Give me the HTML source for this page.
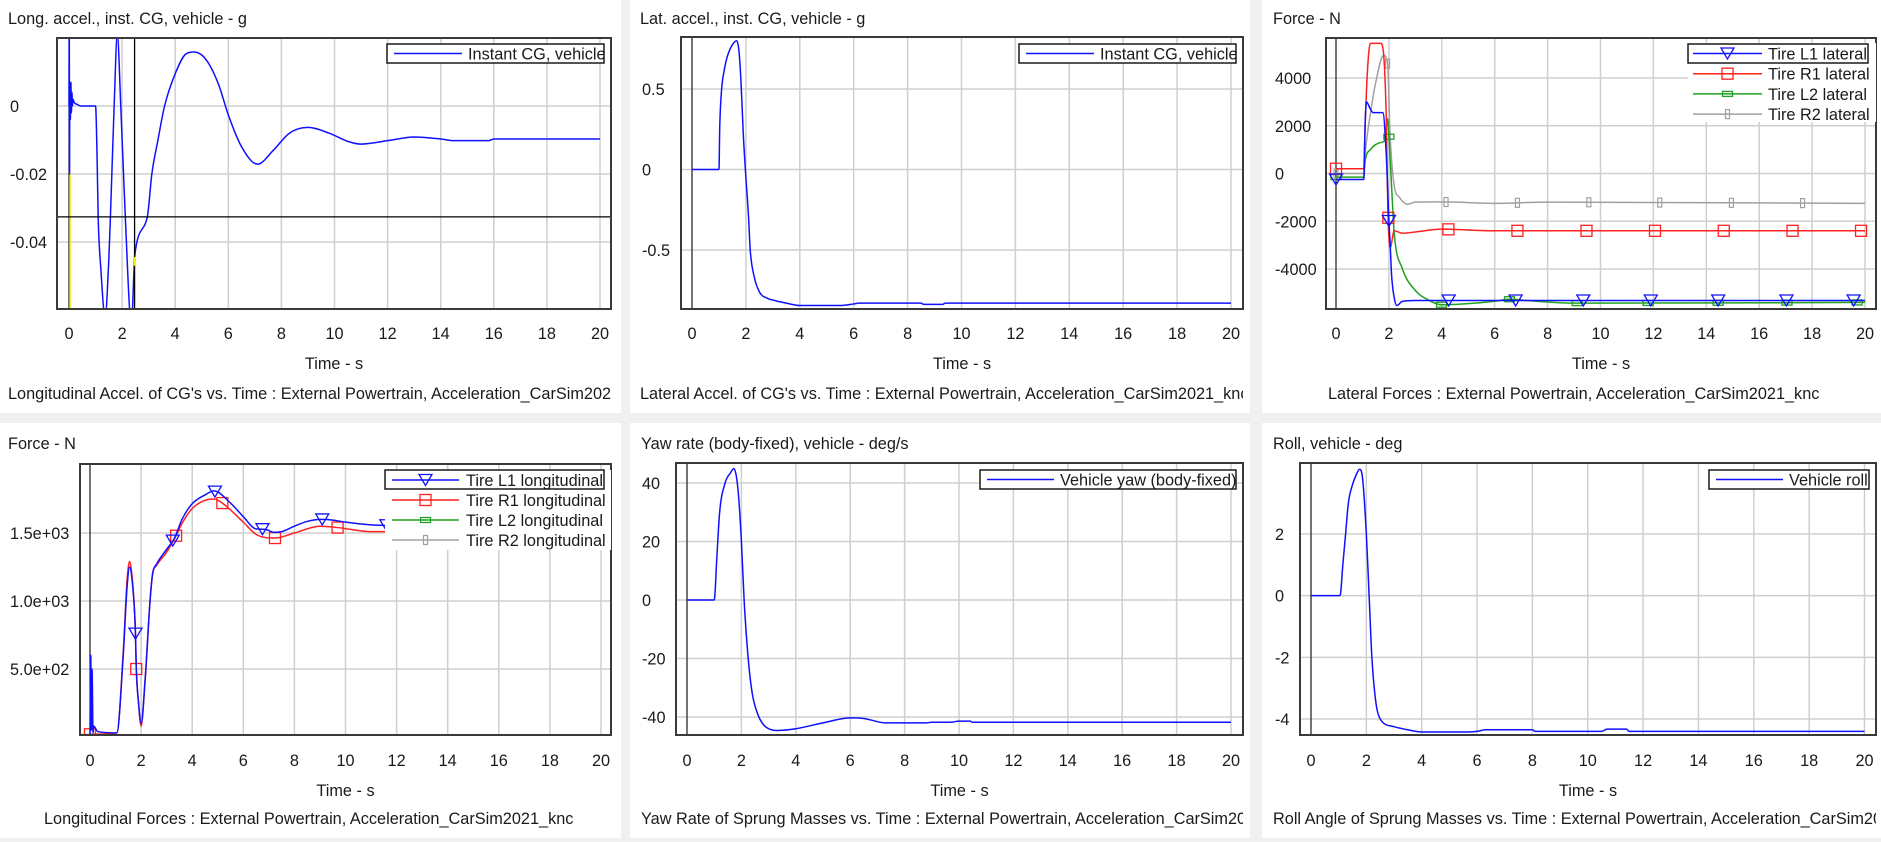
<!DOCTYPE html>
<html><head><meta charset="utf-8"><title>CarSim plots</title>
<style>
html,body{margin:0;padding:0;background:#f0f0f0;}
svg{display:block;font-family:"Liberation Sans",Arial,sans-serif;}
</style></head>
<body>
<svg id="root" width="1881" height="842" viewBox="0 0 1881 842" xmlns="http://www.w3.org/2000/svg">
<rect x="0" y="0" width="1881" height="842" fill="#f0f0f0"/>
</svg>
<script>
// ---------- shared axis data ----------
const xTicks = [0,2,4,6,8,10,12,14,16,18,20];

// ---------- panel 1: longitudinal accel ----------
const p1Time = [0,0.01,0.02,0.03,0.05,0.07,0.09,0.11,0.13,0.15,0.2,0.3,0.45,1.0,1.05,1.1,1.2,1.36,1.5,1.56,1.7,1.82,1.95,2.12,2.35,2.46,2.47,2.95,3.12,3.35,3.6,4.0,4.4,4.7,5.0,5.3,5.65,6.0,6.5,7.1,7.7,8.3,9.0,9.8,10.5,11.0,12.0,13.0,14.0,14.5,15.8,16.0,20];
const p1Accel = [0,0.025,-0.02,0.006,-0.004,0.007,-0.002,0.004,0.0,0.002,0.001,0.0005,0.0,0.0,-0.012,-0.033,-0.048,-0.062,-0.045,-0.0326,0.0,0.021,0.0,-0.0326,-0.064,-0.046,-0.0444,-0.0326,-0.02,-0.01,0.0,0.0095,0.0153,0.0159,0.0150,0.012,0.006,-0.0026,-0.012,-0.0171,-0.013,-0.008,-0.0063,-0.008,-0.0104,-0.0112,-0.0102,-0.0091,-0.0097,-0.0102,-0.0102,-0.0097,-0.0097];
const p1YTicks = [0,-0.02,-0.04];
const p1YLabels = ["0","-0.02","-0.04"];

// ---------- panel 2: lateral accel ----------
const p2Time = [0,1.0,1.03,1.1,1.2,1.29,1.48,1.66,1.74,1.82,1.9,1.98,2.1,2.16,2.3,2.5,2.8,3.1,3.5,4.0,5.5,6.0,6.2,8.5,8.6,9.3,9.4,20];
const p2Accel = [0,0,0.27,0.5,0.62,0.69,0.77,0.8,0.74,0.54,0.23,0,-0.3,-0.5,-0.66,-0.76,-0.8,-0.815,-0.83,-0.845,-0.845,-0.835,-0.83,-0.83,-0.838,-0.838,-0.83,-0.83];
const p2YTicks = [0.5,0,-0.5];
const p2YLabels = ["0.5","0","-0.5"];

// ---------- panel 3: lateral forces ----------
const p3L1Time = [0,1.05,1.1,1.15,1.3,1.4,1.77,1.9,2.0,2.05,2.1,2.2,2.3,2.5,3.0,20];
const p3L1Force = [-250,-250,2000,3000,2700,2550,2550,800,-1990,-3000,-4240,-5200,-5530,-5360,-5320,-5320];
const p3L1Marks = [0,2.0,4.26,6.79,9.35,11.9,14.45,17.03,19.57];
const p3R1Time = [0,1.05,1.1,1.2,1.3,1.69,1.8,1.9,1.96,2.05,2.2,2.5,3.0,4.0,6.0,20];
const p3R1Force = [200,200,2000,4500,5450,5450,5000,2350,-1500,-3100,-2400,-2500,-2450,-2330,-2400,-2400];
const p3R1Marks = [0,1.98,4.25,6.86,9.47,12.06,14.66,17.26,19.85];
const p3L2Time = [0,1.05,1.1,1.3,1.7,1.85,1.95,2.0,2.1,2.2,2.5,3.0,3.5,4.0,5.0,6.0,6.6,7.2,9.0,20];
const p3L2Force = [-150,-150,500,1000,1300,1400,2300,1540,-500,-2500,-3960,-4900,-5300,-5500,-5450,-5350,-5260,-5320,-5430,-5400];
const p3L2Marks = [0,2.0,3.99,6.56,9.12,11.8,14.45,17.05,19.7];
const p3R2Time = [0,1.05,1.1,1.3,1.5,1.8,1.95,2.05,2.2,2.4,2.7,3.0,4.0,6.0,8.0,20];
const p3R2Force = [0,0,800,2500,3800,4950,4600,1500,-500,-1000,-1290,-1200,-1190,-1250,-1200,-1250];
const p3R2Marks = [0,1.95,4.16,6.86,9.56,12.24,14.95,17.64];
const p3YTicks = [4000,2000,0,-2000,-4000];
const p3YLabels = ["4000","2000","0","-2000","-4000"];

// ---------- panel 4: longitudinal forces ----------
const p4L1Time = [0,0.03,0.05,0.08,0.12,0.15,0.3,1.05,1.3,1.45,1.55,1.65,1.75,1.78,1.81,1.9,2.0,2.15,2.35,2.45,2.6,3.0,3.3,3.6,4.0,4.5,4.85,5.5,6.0,6.5,6.85,7.2,7.5,8.0,8.5,9.05,9.5,10,11,12,20];
const p4L1Force = [0,600,50,500,30,80,40,30,600,1100,1250,1150,900,760,520,250,100,400,1000,1200,1270,1380,1460,1600,1715,1780,1810,1720,1620,1530,1527,1505,1510,1550,1585,1600,1595,1580,1560,1555,1550];
const p4L1Marks = [1.78,3.24,4.89,6.75,9.09,11.6];
const p4R1Time = [0,1.05,1.3,1.45,1.55,1.65,1.75,1.78,1.81,1.9,2.0,2.15,2.35,2.45,2.6,3.0,3.37,3.6,4.0,4.5,4.85,5.18,6.0,6.5,7.24,8.0,9.0,9.69,11,20];
const p4R1Force = [20,30,620,1150,1290,1170,900,740,500,250,80,400,1000,1200,1260,1360,1480,1570,1680,1740,1750,1720,1580,1490,1463,1500,1550,1540,1510,1510];
const p4R1Marks = [0,1.81,3.37,5.18,7.24,9.69];
const p4L2Time = [0,20];
const p4L2Force = [0,0];
const p4L2Marks = [-0.1];
const p4R2Time = [0,20];
const p4R2Force = [0,0];
const p4R2Marks = [];
const p4YTicks = [1500,1000,500];
const p4YLabels = ["1.5e+03","1.0e+03","5.0e+02"];

// ---------- panel 5: yaw rate ----------
const p5Time = [0,1.0,1.1,1.2,1.4,1.6,1.72,1.82,1.9,2.0,2.1,2.25,2.4,2.6,2.8,3.0,3.3,4,5,6,6.5,7.3,8,8.8,9,9.7,10,10.4,10.5,20];
const p5Yaw = [0,0,15,30,40,43.5,44.9,42,35,20,0,-20,-32,-39,-42.5,-44,-44.6,-44,-42,-40.3,-40.5,-42,-42,-42,-41.8,-41.8,-41.4,-41.4,-41.8,-41.8];
const p5YTicks = [40,20,0,-20,-40];
const p5YLabels = ["40","20","0","-20","-40"];

// ---------- panel 6: roll ----------
const p6Time = [0,1.05,1.15,1.25,1.35,1.5,1.65,1.75,1.85,2.0,2.1,2.2,2.35,2.5,3.0,3.5,4.0,5.5,6.0,6.3,8.0,8.1,10.5,10.7,11.4,11.5,20];
const p6Roll = [0,0,1.0,2.0,3.0,3.6,3.95,4.1,3.9,2.0,0,-2,-3.5,-4.0,-4.25,-4.35,-4.42,-4.42,-4.4,-4.35,-4.35,-4.4,-4.4,-4.33,-4.33,-4.4,-4.4];
const p6YTicks = [2,0,-2,-4];
const p6YLabels = ["2","0","-2","-4"];

// ---------- rendering ----------
const NS = "http://www.w3.org/2000/svg";
const root = document.getElementById('root');
const FS = 16.3;
function mk(tag, attrs, parent){
  const e = document.createElementNS(NS, tag);
  for (const k in attrs) e.setAttribute(k, attrs[k]);
  (parent||root).appendChild(e);
  return e;
}
function interp(ts, vs, t){
  if (t <= ts[0]) return vs[0];
  for (let i=1;i<ts.length;i++){ if (t <= ts[i]){ const f=(t-ts[i-1])/(ts[i]-ts[i-1]); return vs[i-1]+f*(vs[i]-vs[i-1]); } }
  return vs[vs.length-1];
}
// monotone cubic path (no overshoot)
function monoPath(xs, ys){
  const n = xs.length;
  if (n < 3) return xs.map((x,i)=>(i?'L':'M')+x.toFixed(2)+' '+ys[i].toFixed(2)).join(' ');
  const d = [], m = new Array(n);
  for (let i=0;i<n-1;i++) d.push((ys[i+1]-ys[i])/(xs[i+1]-xs[i]));
  m[0]=d[0]; m[n-1]=d[n-2];
  for (let i=1;i<n-1;i++) m[i] = (d[i-1]*d[i] <= 0) ? 0 : (d[i-1]+d[i])/2;
  for (let i=0;i<n-1;i++){
    if (d[i]===0){ m[i]=0; m[i+1]=0; continue; }
    const a=m[i]/d[i], b=m[i+1]/d[i], s=a*a+b*b;
    if (s>9){ const t=3/Math.sqrt(s); m[i]=t*a*d[i]; m[i+1]=t*b*d[i]; }
  }
  let p = 'M'+xs[0].toFixed(2)+' '+ys[0].toFixed(2);
  for (let i=0;i<n-1;i++){
    const h = xs[i+1]-xs[i];
    p += ' C'+(xs[i]+h/3).toFixed(2)+' '+(ys[i]+m[i]*h/3).toFixed(2)+' '+(xs[i+1]-h/3).toFixed(2)+' '+(ys[i+1]-m[i+1]*h/3).toFixed(2)+' '+xs[i+1].toFixed(2)+' '+ys[i+1].toFixed(2);
  }
  return p;
}
let clipId = 0;
function panel(cfg){
  const g = mk('g', {});
  
  
  const bg = mk('rect', {x:cfg.px, y:cfg.py, width:cfg.pw, height:cfg.ph, fill:'#ffffff'}, g);
  
  
  const p = cfg.plot;
  const X = t => p.x0 + t*(p.x20-p.x0)/20;
  const Y = v => p.ya[1] + (v-p.ya[0])*(p.yb[1]-p.ya[1])/(p.yb[0]-p.ya[0]);
  const cid = 'clip'+(clipId++);
  const cp = mk('clipPath', {id:cid}, g);
  mk('rect', {x:p.l, y:p.t, width:p.r-p.l, height:p.b-p.t}, cp);
  const fid = 'fclip'+(clipId++);
  const fcp = mk('clipPath', {id:fid}, g);
  mk('rect', {x:cfg.px, y:cfg.py, width:p.r-cfg.px, height:cfg.ph}, fcp);
  const title = mk('text', {x:cfg.px+cfg.tx, y:cfg.py+cfg.ty, 'font-size':FS, fill:'#1a1a1a'}, g);
  title.textContent = cfg.title;
  
  
  const grid = mk('g', {stroke:'#cfcfcf', 'stroke-width':1.5, 'clip-path':'url(#'+cid+')'}, g);
  
  
  xTicks.forEach(t => { mk('line', {x1:X(t), x2:X(t), y1:p.t, y2:p.b}, grid); });
  cfg.yTicks.forEach(v => { mk('line', {x1:p.l, x2:p.r, y1:Y(v), y2:Y(v)}, grid); });
  const zl = mk('line', {x1:X(0), x2:X(0), y1:p.t, y2:p.b, stroke:'#000', 'stroke-width':1}, g);
  
  
  xTicks.forEach(t => {
    const tl = mk('text', {x:X(t), y:cfg.py+cfg.xly, 'font-size':FS, 'text-anchor':'middle', fill:'#1a1a1a'}, g);
    tl.textContent = String(t);
    
    
  });
  cfg.yTicks.forEach((v,i) => {
    const tl = mk('text', {x:cfg.px+cfg.ylx, y:Y(v)+6, 'font-size':FS, fill:'#1a1a1a'}, g);
    tl.textContent = cfg.yLabels[i];
    
    
  });
  const xt = mk('text', {x:(p.l+p.r)/2, y:cfg.py+cfg.xty, 'font-size':FS, 'text-anchor':'middle', fill:'#1a1a1a'}, g);
  xt.textContent = 'Time - s';
  
  
  const ft = mk('text', {x:cfg.px+cfg.fx, y:cfg.py+cfg.fy, 'font-size':FS, fill:'#1a1a1a', 'clip-path':'url(#'+fid+')'}, g);
  ft.textContent = cfg.footer;
  
  
  const sg = mk('g', {'clip-path':'url(#'+cid+')'}, g);
  
  
  if (cfg.extra) cfg.extra(sg, X, Y, p);
  cfg.series.forEach(s => {
    const d = monoPath(s.t.map(X), s.v.map(Y));
    const line = mk('path', {d:d, fill:'none', stroke:s.color, 'stroke-width':1.5, 'stroke-linejoin':'round'}, sg);
    
    
    (s.marks||[]).forEach(mt => drawMarker(sg, s.marker, X(mt), Y(interp(s.t, s.v, mt)), s.color, s.id));
  });
  if (cfg.cursor) cfg.cursor(sg, X, Y, p);
  const fr = mk('rect', {x:p.l, y:p.t, width:p.r-p.l, height:p.b-p.t, fill:'none', stroke:'#3a3a3a', 'stroke-width':2}, g);
  
  
  const L = cfg.legend;
  const lg = mk('g', {}, g);
  
  
  if (L.bg) mk('rect', {x:L.bg[0], y:L.bg[1], width:L.bg[2], height:L.bg[3], fill:'#fff'}, lg);
  mk('rect', {x:L.box[0], y:L.box[1], width:L.box[2], height:L.box[3], fill:'#fff', stroke:'#1a1a1a', 'stroke-width':1.5}, lg);
  const lc = mk('clipPath', {id:'lc'+clipId}, lg);
  mk('rect', {x:L.lx1-10, y:L.box[1]-4, width:L.clipR-(L.lx1-10), height:200}, lc);
  const inner = mk('g', {'clip-path':'url(#lc'+(clipId++)+')'}, lg);
  L.entries.forEach((e,i) => {
    const y = L.y0 + i*L.dy;
    const eg = mk('g', {}, inner);
    
    
    mk('line', {x1:L.lx1, x2:L.lx2, y1:y, y2:y, stroke:e.color, 'stroke-width':1.5}, eg);
    if (e.marker) drawMarker(eg, e.marker, (L.lx1+L.lx2)/2, y, e.color, 'legend');
    const tx = mk('text', {x:L.tx, y:y+6, 'font-size':FS, fill:'#1a1a1a'}, eg);
    tx.textContent = e.label;
  });
}
function drawMarker(parent, type, x, y, color, id){
  let m;
  if (type==='tri') m = mk('path', {d:`M${x-6.5} ${y-5.5} L${x+6.5} ${y-5.5} L${x} ${y+5.5} Z`, fill:'none', stroke:color, 'stroke-width':1.3}, parent);
  else if (type==='sq') m = mk('rect', {x:x-5.5, y:y-5.5, width:11, height:11, fill:'none', stroke:color, 'stroke-width':1.3}, parent);
  else if (type==='sqs') m = mk('rect', {x:x-5, y:y-2.5, width:10, height:5, fill:'none', stroke:color, 'stroke-width':1.3}, parent);
  else if (type==='bar') m = mk('rect', {x:x-2, y:y-4.5, width:4, height:9, fill:'none', stroke:color, 'stroke-width':1.2}, parent);
  if (m){
    
    
  }
}

const BLUE='#1010ff', RED='#ff2020', GREEN='#20a020', GRAY='#a0a0a0';

panel({name:'long-accel-chart', px:0, py:0, pw:621, ph:413, title:'Long. accel., inst. CG, vehicle - g', tx:8, ty:24,
  plot:{l:57,r:611,t:38,b:309,x0:69,x20:600,ya:[0,106],yb:[-0.04,242]},
  yTicks:p1YTicks, yLabels:p1YLabels, ylx:10, xly:339, xty:369, fx:8, fy:399,
  footer:"Longitudinal Accel. of CG's vs. Time : External Powertrain, Acceleration_CarSim2021_knc",
  extra:(sg,X,Y,p)=>{
    const yl = mk('line',{x1:X(0)+1,x2:X(0)+1,y1:Y(-0.02),y2:p.b,stroke:'#f0f000','stroke-width':1.5},sg);
    
    
  },
  series:[{id:'instant-cg',t:p1Time,v:p1Accel,color:BLUE}],
  cursor:(sg,X,Y,p)=>{
    const c1 = mk('line',{x1:X(2.47),x2:X(2.47),y1:p.t,y2:p.b,stroke:'#000','stroke-width':1.3},sg);
    
    
    const c2 = mk('line',{x1:p.l,x2:p.r,y1:Y(-0.0326),y2:Y(-0.0326),stroke:'#000','stroke-width':1.3},sg);
    
    
    const c3 = mk('line',{x1:X(2.47),x2:X(2.47),y1:Y(-0.0444),y2:Y(-0.047),stroke:'#f0f000','stroke-width':1.5},sg);
    
    
  },
  legend:{box:[387,44,217,19],lx1:394,lx2:462,tx:468,y0:53.5,dy:20,clipR:604,entries:[{label:'Instant CG, vehicle',color:BLUE}]}
});

panel({name:'lat-accel-chart', px:630, py:0, pw:620, ph:413, title:'Lat. accel., inst. CG, vehicle - g', tx:10, ty:24,
  plot:{l:681,r:1243,t:37,b:309,x0:692,x20:1231,ya:[0.5,89],yb:[-0.5,250]},
  yTicks:p2YTicks, yLabels:p2YLabels, ylx:12, xly:339, xty:369, fx:10, fy:399,
  footer:"Lateral Accel. of CG's vs. Time : External Powertrain, Acceleration_CarSim2021_knc",
  series:[{id:'instant-cg',t:p2Time,v:p2Accel,color:BLUE}],
  legend:{box:[1019,44,217,19],lx1:1026,lx2:1094,tx:1100,y0:53.5,dy:20,clipR:1236,entries:[{label:'Instant CG, vehicle',color:BLUE}]}
});

panel({name:'lateral-forces-chart', px:1262, py:0, pw:619, ph:413, title:'Force - N', tx:11, ty:24,
  plot:{l:1326,r:1876,t:38,b:309,x0:1336,x20:1865,ya:[4000,78],yb:[-4000,269]},
  yTicks:p3YTicks, yLabels:p3YLabels, ylx:13, xly:339, xty:369, fx:66, fy:399,
  footer:"Lateral Forces : External Powertrain, Acceleration_CarSim2021_knc",
  series:[
    {id:'tire-r2-lateral',t:p3R2Time,v:p3R2Force,color:GRAY,marker:'bar',marks:p3R2Marks},
    {id:'tire-l2-lateral',t:p3L2Time,v:p3L2Force,color:GREEN,marker:'sqs',marks:p3L2Marks},
    {id:'tire-r1-lateral',t:p3R1Time,v:p3R1Force,color:RED,marker:'sq',marks:p3R1Marks},
    {id:'tire-l1-lateral',t:p3L1Time,v:p3L1Force,color:BLUE,marker:'tri',marks:p3L1Marks}
  ],
  legend:{bg:[1688,43,188,79],box:[1688,44,180,19],lx1:1693,lx2:1762,tx:1768,y0:53.5,dy:20.2,clipR:1876,entries:[
    {label:'Tire L1 lateral',color:BLUE,marker:'tri'},
    {label:'Tire R1 lateral',color:RED,marker:'sq'},
    {label:'Tire L2 lateral',color:GREEN,marker:'sqs'},
    {label:'Tire R2 lateral',color:GRAY,marker:'bar'}]}
});

panel({name:'longitudinal-forces-chart', px:0, py:423, pw:621, ph:415, title:'Force - N', tx:8, ty:26,
  plot:{l:80,r:611,t:464,b:735,x0:90,x20:601,ya:[1500,533],yb:[500,669]},
  yTicks:p4YTicks, yLabels:p4YLabels, ylx:10, xly:343, xty:373, fx:44, fy:401,
  footer:"Longitudinal Forces : External Powertrain, Acceleration_CarSim2021_knc",
  series:[
    {id:'tire-r2-longitudinal',t:p4R2Time,v:p4R2Force,color:GRAY,marker:'bar',marks:p4R2Marks},
    {id:'tire-l2-longitudinal',t:p4L2Time,v:p4L2Force,color:GREEN,marker:'sqs',marks:p4L2Marks},
    {id:'tire-r1-longitudinal',t:p4R1Time,v:p4R1Force,color:RED,marker:'sq',marks:p4R1Marks},
    {id:'tire-l1-longitudinal',t:p4L1Time,v:p4L1Force,color:BLUE,marker:'tri',marks:p4L1Marks}
  ],
  legend:{bg:[385,470,226,80],box:[385,470,219,19],lx1:392,lx2:459,tx:466,y0:480,dy:20,clipR:611,entries:[
    {label:'Tire L1 longitudinal',color:BLUE,marker:'tri'},
    {label:'Tire R1 longitudinal',color:RED,marker:'sq'},
    {label:'Tire L2 longitudinal',color:GREEN,marker:'sqs'},
    {label:'Tire R2 longitudinal',color:GRAY,marker:'bar'}]}
});

panel({name:'yaw-rate-chart', px:630, py:423, pw:620, ph:415, title:'Yaw rate (body-fixed), vehicle - deg/s', tx:11, ty:26,
  plot:{l:676,r:1243,t:463,b:735,x0:687,x20:1231,ya:[40,483],yb:[-40,717]},
  yTicks:p5YTicks, yLabels:p5YLabels, ylx:12, xly:343, xty:373, fx:11, fy:401,
  footer:"Yaw Rate of Sprung Masses vs. Time : External Powertrain, Acceleration_CarSim2021_knc",
  series:[{id:'vehicle-yaw',t:p5Time,v:p5Yaw,color:BLUE}],
  legend:{box:[980,470,256,19],lx1:987,lx2:1054,tx:1060,y0:479.5,dy:20,clipR:1236,entries:[{label:'Vehicle yaw (body-fixed)',color:BLUE}]}
});

panel({name:'roll-chart', px:1262, py:423, pw:619, ph:415, title:'Roll, vehicle - deg', tx:11, ty:26,
  plot:{l:1300,r:1876,t:463,b:735,x0:1311,x20:1864.5,ya:[2,534],yb:[-4,719]},
  yTicks:p6YTicks, yLabels:p6YLabels, ylx:13, xly:343, xty:373, fx:11, fy:401,
  footer:"Roll Angle of Sprung Masses vs. Time : External Powertrain, Acceleration_CarSim2021_knc",
  series:[{id:'vehicle-roll',t:p6Time,v:p6Roll,color:BLUE}],
  legend:{box:[1709,470,160,19],lx1:1716,lx2:1783,tx:1789,y0:479.5,dy:20,clipR:1869,entries:[{label:'Vehicle roll',color:BLUE}]}
});
</script>
</body></html>
